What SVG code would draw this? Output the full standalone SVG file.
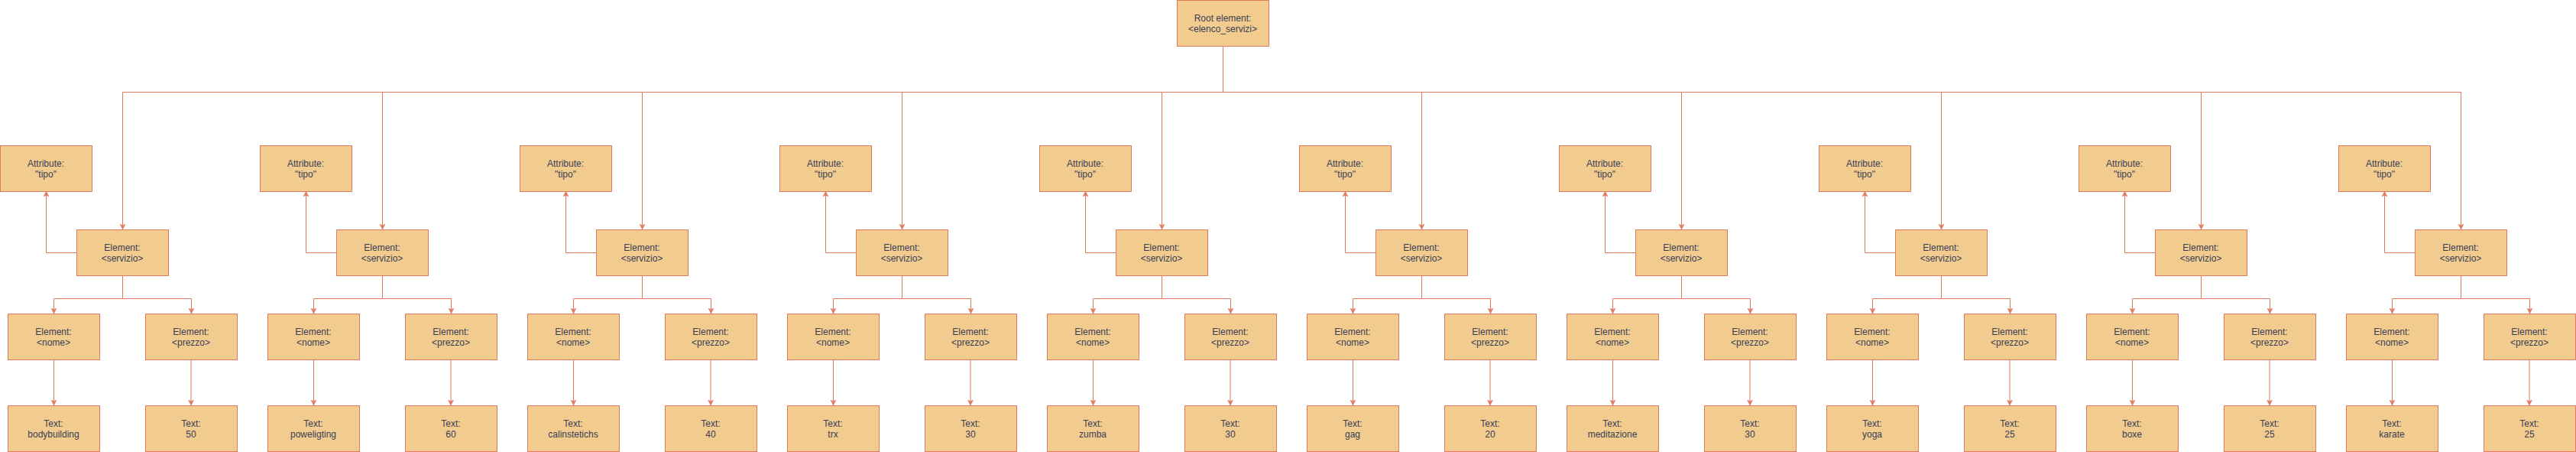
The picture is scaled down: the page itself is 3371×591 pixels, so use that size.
<svg xmlns="http://www.w3.org/2000/svg" width="3371" height="591" viewBox="0 0 3371 591">
<style>
.n{fill:#F2CC8F;stroke:#E07A5F;stroke-width:1}
.t{font-family:"Liberation Sans",Arial,Helvetica,sans-serif;font-size:12px;fill:#393C56;text-anchor:middle}
.c{fill:none;stroke:#E07A5F;stroke-width:1}
.a{marker-end:url(#arr)}
</style>
<defs>
<marker id="arr" markerUnits="userSpaceOnUse" markerWidth="8" markerHeight="8" refX="7" refY="3.5" orient="auto">
<path d="M0,0 L7,3.5 L0,7 L1.75,3.5 Z" fill="#E07A5F" stroke="#E07A5F" stroke-width="0.5"/>
</marker>
</defs>
<rect width="3371" height="591" fill="#ffffff"/>
<g id="connectors">
<path class="c" d="M1600.5,60V120.5M160.5,120.5H3220.5"/>
<path class="c a" d="M160.5,120.5V300"/><path class="c a" d="M100,330.5H60.5V250"/><path class="c a" d="M160.5,360V390.5H70.5V410"/><path class="c a" d="M160.5,390.5H250.5V410"/><path class="c a" d="M70.5,470V530"/><path class="c a" d="M250,470V530"/>
<path class="c a" d="M500.5,120.5V300"/><path class="c a" d="M440,330.5H400.5V250"/><path class="c a" d="M500.5,360V390.5H410.5V410"/><path class="c a" d="M500.5,390.5H590.5V410"/><path class="c a" d="M410.5,470V530"/><path class="c a" d="M590,470V530"/>
<path class="c a" d="M840.5,120.5V300"/><path class="c a" d="M780,330.5H740.5V250"/><path class="c a" d="M840.5,360V390.5H750.5V410"/><path class="c a" d="M840.5,390.5H930.5V410"/><path class="c a" d="M750.5,470V530"/><path class="c a" d="M930,470V530"/>
<path class="c a" d="M1180.5,120.5V300"/><path class="c a" d="M1120,330.5H1080.5V250"/><path class="c a" d="M1180.5,360V390.5H1090.5V410"/><path class="c a" d="M1180.5,390.5H1270.5V410"/><path class="c a" d="M1090.5,470V530"/><path class="c a" d="M1270,470V530"/>
<path class="c a" d="M1520.5,120.5V300"/><path class="c a" d="M1460,330.5H1420.5V250"/><path class="c a" d="M1520.5,360V390.5H1430.5V410"/><path class="c a" d="M1520.5,390.5H1610.5V410"/><path class="c a" d="M1430.5,470V530"/><path class="c a" d="M1610,470V530"/>
<path class="c a" d="M1860.5,120.5V300"/><path class="c a" d="M1800,330.5H1760.5V250"/><path class="c a" d="M1860.5,360V390.5H1770.5V410"/><path class="c a" d="M1860.5,390.5H1950.5V410"/><path class="c a" d="M1770.5,470V530"/><path class="c a" d="M1950,470V530"/>
<path class="c a" d="M2200.5,120.5V300"/><path class="c a" d="M2140,330.5H2100.5V250"/><path class="c a" d="M2200.5,360V390.5H2110.5V410"/><path class="c a" d="M2200.5,390.5H2290.5V410"/><path class="c a" d="M2110.5,470V530"/><path class="c a" d="M2290,470V530"/>
<path class="c a" d="M2540.5,120.5V300"/><path class="c a" d="M2480,330.5H2440.5V250"/><path class="c a" d="M2540.5,360V390.5H2450.5V410"/><path class="c a" d="M2540.5,390.5H2630.5V410"/><path class="c a" d="M2450.5,470V530"/><path class="c a" d="M2630,470V530"/>
<path class="c a" d="M2880.5,120.5V300"/><path class="c a" d="M2820,330.5H2780.5V250"/><path class="c a" d="M2880.5,360V390.5H2790.5V410"/><path class="c a" d="M2880.5,390.5H2970.5V410"/><path class="c a" d="M2790.5,470V530"/><path class="c a" d="M2970,470V530"/>
<path class="c a" d="M3220.5,120.5V300"/><path class="c a" d="M3160,330.5H3120.5V250"/><path class="c a" d="M3220.5,360V390.5H3130.5V410"/><path class="c a" d="M3220.5,390.5H3310.5V410"/><path class="c a" d="M3130.5,470V530"/><path class="c a" d="M3310,470V530"/>
</g>
<g id="root"><rect class="n" x="1540.5" y="0.5" width="120" height="60"/><text class="t" x="1600" y="28">Root element:</text><text class="t" x="1600" y="42">&lt;elenco_servizi&gt;</text></g>

<g id="attr1"><rect class="n" x="0.5" y="190.5" width="120" height="60"/><text class="t" x="60" y="218">Attribute:</text><text class="t" x="60" y="232">"tipo"</text></g>
<g id="serv1"><rect class="n" x="100.5" y="300.5" width="120" height="60"/><text class="t" x="160" y="328">Element:</text><text class="t" x="160" y="342">&lt;servizio&gt;</text></g>
<g id="nome1"><rect class="n" x="10.5" y="410.5" width="120" height="60"/><text class="t" x="70" y="438">Element:</text><text class="t" x="70" y="452">&lt;nome&gt;</text></g>
<g id="prezzo1"><rect class="n" x="190.5" y="410.5" width="120" height="60"/><text class="t" x="250" y="438">Element:</text><text class="t" x="250" y="452">&lt;prezzo&gt;</text></g>
<g id="tnome1"><rect class="n" x="10.5" y="530.5" width="120" height="60"/><text class="t" x="70" y="558">Text:</text><text class="t" x="70" y="572">bodybuilding</text></g>
<g id="tprezzo1"><rect class="n" x="190.5" y="530.5" width="120" height="60"/><text class="t" x="250" y="558">Text:</text><text class="t" x="250" y="572">50</text></g>

<g id="attr2"><rect class="n" x="340.5" y="190.5" width="120" height="60"/><text class="t" x="400" y="218">Attribute:</text><text class="t" x="400" y="232">"tipo"</text></g>
<g id="serv2"><rect class="n" x="440.5" y="300.5" width="120" height="60"/><text class="t" x="500" y="328">Element:</text><text class="t" x="500" y="342">&lt;servizio&gt;</text></g>
<g id="nome2"><rect class="n" x="350.5" y="410.5" width="120" height="60"/><text class="t" x="410" y="438">Element:</text><text class="t" x="410" y="452">&lt;nome&gt;</text></g>
<g id="prezzo2"><rect class="n" x="530.5" y="410.5" width="120" height="60"/><text class="t" x="590" y="438">Element:</text><text class="t" x="590" y="452">&lt;prezzo&gt;</text></g>
<g id="tnome2"><rect class="n" x="350.5" y="530.5" width="120" height="60"/><text class="t" x="410" y="558">Text:</text><text class="t" x="410" y="572">poweligting</text></g>
<g id="tprezzo2"><rect class="n" x="530.5" y="530.5" width="120" height="60"/><text class="t" x="590" y="558">Text:</text><text class="t" x="590" y="572">60</text></g>

<g id="attr3"><rect class="n" x="680.5" y="190.5" width="120" height="60"/><text class="t" x="740" y="218">Attribute:</text><text class="t" x="740" y="232">"tipo"</text></g>
<g id="serv3"><rect class="n" x="780.5" y="300.5" width="120" height="60"/><text class="t" x="840" y="328">Element:</text><text class="t" x="840" y="342">&lt;servizio&gt;</text></g>
<g id="nome3"><rect class="n" x="690.5" y="410.5" width="120" height="60"/><text class="t" x="750" y="438">Element:</text><text class="t" x="750" y="452">&lt;nome&gt;</text></g>
<g id="prezzo3"><rect class="n" x="870.5" y="410.5" width="120" height="60"/><text class="t" x="930" y="438">Element:</text><text class="t" x="930" y="452">&lt;prezzo&gt;</text></g>
<g id="tnome3"><rect class="n" x="690.5" y="530.5" width="120" height="60"/><text class="t" x="750" y="558">Text:</text><text class="t" x="750" y="572">calinstetichs</text></g>
<g id="tprezzo3"><rect class="n" x="870.5" y="530.5" width="120" height="60"/><text class="t" x="930" y="558">Text:</text><text class="t" x="930" y="572">40</text></g>

<g id="attr4"><rect class="n" x="1020.5" y="190.5" width="120" height="60"/><text class="t" x="1080" y="218">Attribute:</text><text class="t" x="1080" y="232">"tipo"</text></g>
<g id="serv4"><rect class="n" x="1120.5" y="300.5" width="120" height="60"/><text class="t" x="1180" y="328">Element:</text><text class="t" x="1180" y="342">&lt;servizio&gt;</text></g>
<g id="nome4"><rect class="n" x="1030.5" y="410.5" width="120" height="60"/><text class="t" x="1090" y="438">Element:</text><text class="t" x="1090" y="452">&lt;nome&gt;</text></g>
<g id="prezzo4"><rect class="n" x="1210.5" y="410.5" width="120" height="60"/><text class="t" x="1270" y="438">Element:</text><text class="t" x="1270" y="452">&lt;prezzo&gt;</text></g>
<g id="tnome4"><rect class="n" x="1030.5" y="530.5" width="120" height="60"/><text class="t" x="1090" y="558">Text:</text><text class="t" x="1090" y="572">trx</text></g>
<g id="tprezzo4"><rect class="n" x="1210.5" y="530.5" width="120" height="60"/><text class="t" x="1270" y="558">Text:</text><text class="t" x="1270" y="572">30</text></g>

<g id="attr5"><rect class="n" x="1360.5" y="190.5" width="120" height="60"/><text class="t" x="1420" y="218">Attribute:</text><text class="t" x="1420" y="232">"tipo"</text></g>
<g id="serv5"><rect class="n" x="1460.5" y="300.5" width="120" height="60"/><text class="t" x="1520" y="328">Element:</text><text class="t" x="1520" y="342">&lt;servizio&gt;</text></g>
<g id="nome5"><rect class="n" x="1370.5" y="410.5" width="120" height="60"/><text class="t" x="1430" y="438">Element:</text><text class="t" x="1430" y="452">&lt;nome&gt;</text></g>
<g id="prezzo5"><rect class="n" x="1550.5" y="410.5" width="120" height="60"/><text class="t" x="1610" y="438">Element:</text><text class="t" x="1610" y="452">&lt;prezzo&gt;</text></g>
<g id="tnome5"><rect class="n" x="1370.5" y="530.5" width="120" height="60"/><text class="t" x="1430" y="558">Text:</text><text class="t" x="1430" y="572">zumba</text></g>
<g id="tprezzo5"><rect class="n" x="1550.5" y="530.5" width="120" height="60"/><text class="t" x="1610" y="558">Text:</text><text class="t" x="1610" y="572">30</text></g>

<g id="attr6"><rect class="n" x="1700.5" y="190.5" width="120" height="60"/><text class="t" x="1760" y="218">Attribute:</text><text class="t" x="1760" y="232">"tipo"</text></g>
<g id="serv6"><rect class="n" x="1800.5" y="300.5" width="120" height="60"/><text class="t" x="1860" y="328">Element:</text><text class="t" x="1860" y="342">&lt;servizio&gt;</text></g>
<g id="nome6"><rect class="n" x="1710.5" y="410.5" width="120" height="60"/><text class="t" x="1770" y="438">Element:</text><text class="t" x="1770" y="452">&lt;nome&gt;</text></g>
<g id="prezzo6"><rect class="n" x="1890.5" y="410.5" width="120" height="60"/><text class="t" x="1950" y="438">Element:</text><text class="t" x="1950" y="452">&lt;prezzo&gt;</text></g>
<g id="tnome6"><rect class="n" x="1710.5" y="530.5" width="120" height="60"/><text class="t" x="1770" y="558">Text:</text><text class="t" x="1770" y="572">gag</text></g>
<g id="tprezzo6"><rect class="n" x="1890.5" y="530.5" width="120" height="60"/><text class="t" x="1950" y="558">Text:</text><text class="t" x="1950" y="572">20</text></g>

<g id="attr7"><rect class="n" x="2040.5" y="190.5" width="120" height="60"/><text class="t" x="2100" y="218">Attribute:</text><text class="t" x="2100" y="232">"tipo"</text></g>
<g id="serv7"><rect class="n" x="2140.5" y="300.5" width="120" height="60"/><text class="t" x="2200" y="328">Element:</text><text class="t" x="2200" y="342">&lt;servizio&gt;</text></g>
<g id="nome7"><rect class="n" x="2050.5" y="410.5" width="120" height="60"/><text class="t" x="2110" y="438">Element:</text><text class="t" x="2110" y="452">&lt;nome&gt;</text></g>
<g id="prezzo7"><rect class="n" x="2230.5" y="410.5" width="120" height="60"/><text class="t" x="2290" y="438">Element:</text><text class="t" x="2290" y="452">&lt;prezzo&gt;</text></g>
<g id="tnome7"><rect class="n" x="2050.5" y="530.5" width="120" height="60"/><text class="t" x="2110" y="558">Text:</text><text class="t" x="2110" y="572">meditazione</text></g>
<g id="tprezzo7"><rect class="n" x="2230.5" y="530.5" width="120" height="60"/><text class="t" x="2290" y="558">Text:</text><text class="t" x="2290" y="572">30</text></g>

<g id="attr8"><rect class="n" x="2380.5" y="190.5" width="120" height="60"/><text class="t" x="2440" y="218">Attribute:</text><text class="t" x="2440" y="232">"tipo"</text></g>
<g id="serv8"><rect class="n" x="2480.5" y="300.5" width="120" height="60"/><text class="t" x="2540" y="328">Element:</text><text class="t" x="2540" y="342">&lt;servizio&gt;</text></g>
<g id="nome8"><rect class="n" x="2390.5" y="410.5" width="120" height="60"/><text class="t" x="2450" y="438">Element:</text><text class="t" x="2450" y="452">&lt;nome&gt;</text></g>
<g id="prezzo8"><rect class="n" x="2570.5" y="410.5" width="120" height="60"/><text class="t" x="2630" y="438">Element:</text><text class="t" x="2630" y="452">&lt;prezzo&gt;</text></g>
<g id="tnome8"><rect class="n" x="2390.5" y="530.5" width="120" height="60"/><text class="t" x="2450" y="558">Text:</text><text class="t" x="2450" y="572">yoga</text></g>
<g id="tprezzo8"><rect class="n" x="2570.5" y="530.5" width="120" height="60"/><text class="t" x="2630" y="558">Text:</text><text class="t" x="2630" y="572">25</text></g>

<g id="attr9"><rect class="n" x="2720.5" y="190.5" width="120" height="60"/><text class="t" x="2780" y="218">Attribute:</text><text class="t" x="2780" y="232">"tipo"</text></g>
<g id="serv9"><rect class="n" x="2820.5" y="300.5" width="120" height="60"/><text class="t" x="2880" y="328">Element:</text><text class="t" x="2880" y="342">&lt;servizio&gt;</text></g>
<g id="nome9"><rect class="n" x="2730.5" y="410.5" width="120" height="60"/><text class="t" x="2790" y="438">Element:</text><text class="t" x="2790" y="452">&lt;nome&gt;</text></g>
<g id="prezzo9"><rect class="n" x="2910.5" y="410.5" width="120" height="60"/><text class="t" x="2970" y="438">Element:</text><text class="t" x="2970" y="452">&lt;prezzo&gt;</text></g>
<g id="tnome9"><rect class="n" x="2730.5" y="530.5" width="120" height="60"/><text class="t" x="2790" y="558">Text:</text><text class="t" x="2790" y="572">boxe</text></g>
<g id="tprezzo9"><rect class="n" x="2910.5" y="530.5" width="120" height="60"/><text class="t" x="2970" y="558">Text:</text><text class="t" x="2970" y="572">25</text></g>

<g id="attr10"><rect class="n" x="3060.5" y="190.5" width="120" height="60"/><text class="t" x="3120" y="218">Attribute:</text><text class="t" x="3120" y="232">"tipo"</text></g>
<g id="serv10"><rect class="n" x="3160.5" y="300.5" width="120" height="60"/><text class="t" x="3220" y="328">Element:</text><text class="t" x="3220" y="342">&lt;servizio&gt;</text></g>
<g id="nome10"><rect class="n" x="3070.5" y="410.5" width="120" height="60"/><text class="t" x="3130" y="438">Element:</text><text class="t" x="3130" y="452">&lt;nome&gt;</text></g>
<g id="prezzo10"><rect class="n" x="3250.5" y="410.5" width="120" height="60"/><text class="t" x="3310" y="438">Element:</text><text class="t" x="3310" y="452">&lt;prezzo&gt;</text></g>
<g id="tnome10"><rect class="n" x="3070.5" y="530.5" width="120" height="60"/><text class="t" x="3130" y="558">Text:</text><text class="t" x="3130" y="572">karate</text></g>
<g id="tprezzo10"><rect class="n" x="3250.5" y="530.5" width="120" height="60"/><text class="t" x="3310" y="558">Text:</text><text class="t" x="3310" y="572">25</text></g>
</svg>
